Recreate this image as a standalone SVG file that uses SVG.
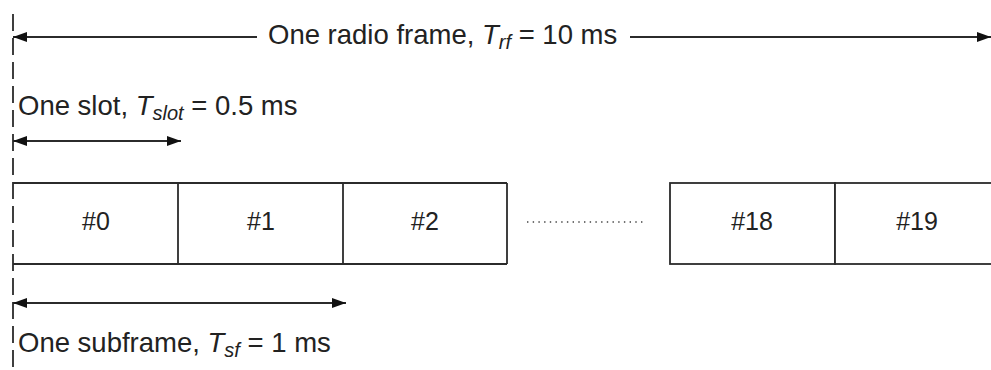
<svg xmlns="http://www.w3.org/2000/svg" width="991" height="370" viewBox="0 0 991 370">
  <style>
    .txt { font-family: "Liberation Sans", Arial, sans-serif; font-size: 27.5px; fill: #222; }
    .lbl { font-family: "Liberation Sans", Arial, sans-serif; font-size: 25px; fill: #222; text-anchor: middle; }
    .it { font-style: italic; }
    .sub { font-style: italic; font-size: 20px; }
    .ln { stroke: #2b2b2b; stroke-width: 1.8; fill: none; }
    .box { stroke: #2b2b2b; stroke-width: 1.8; fill: #fff; }
  </style>
  <defs>
    <marker id="ah" viewBox="0 0 14 10" refX="14" refY="5" markerWidth="14" markerHeight="10" markerUnits="userSpaceOnUse" orient="auto-start-reverse">
      <path d="M0,0 L14,5 L0,10 z" fill="#111"/>
    </marker>
  </defs>
  <rect width="991" height="370" fill="#fff"/>

  <!-- time origin -->
  <line class="ln" x1="13" y1="14" x2="13" y2="370" stroke-dasharray="17 7"/>

  <!-- slot row -->
  <g id="row-left">
    <line class="ln" x1="13" y1="183" x2="507" y2="183"/>
    <line class="ln" x1="13" y1="264" x2="507" y2="264"/>
  </g>
  <g id="slot0">
    <text class="lbl" x="96" y="230">#0</text>
  </g>
  <g id="slot1">
    <line class="ln" x1="178" y1="183" x2="178" y2="264"/>
    <text class="lbl" x="261" y="230">#1</text>
  </g>
  <g id="slot2">
    <line class="ln" x1="343" y1="183" x2="343" y2="264"/>
    <line class="ln" x1="507" y1="183" x2="507" y2="264"/>
    <text class="lbl" x="425" y="230">#2</text>
  </g>
  <g id="ellipsis">
    <line x1="527" y1="222" x2="645" y2="222" stroke="#444" stroke-width="1.3" stroke-dasharray="1.4 4.3"/>
  </g>
  <g id="slot18">
    <rect class="box" x="670" y="183" width="165" height="81"/>
    <text class="lbl" x="752" y="230">#18</text>
  </g>
  <g id="slot19">
    <rect class="box" x="835" y="183" width="170" height="81"/>
    <text class="lbl" x="917" y="230">#19</text>
  </g>

  <!-- dimension arrows -->
  <g id="connectors">
    <line class="ln" x1="13" y1="37" x2="257" y2="37" marker-start="url(#ah)"/>
    <line class="ln" x1="630" y1="37" x2="991" y2="37" marker-end="url(#ah)"/>
    <line class="ln" x1="13" y1="141" x2="181" y2="141" marker-start="url(#ah)" marker-end="url(#ah)"/>
    <line class="ln" x1="13" y1="303" x2="346" y2="303" marker-start="url(#ah)" marker-end="url(#ah)"/>
  </g>

  <g id="frame-label">
    <text class="txt" x="268" y="44">One radio frame, <tspan class="it">T</tspan><tspan class="sub" dy="5">rf</tspan><tspan dy="-5"> = 10 ms</tspan></text>
  </g>
  <g id="slot-label">
    <text class="txt" x="18" y="115">One slot, <tspan class="it">T</tspan><tspan class="sub" dy="5">slot</tspan><tspan dy="-5"> = 0.5 ms</tspan></text>
  </g>
  <g id="subframe-label">
    <text class="txt" x="18" y="352">One subframe, <tspan class="it">T</tspan><tspan class="sub" dy="5">sf</tspan><tspan dy="-5"> = 1 ms</tspan></text>
  </g>
</svg>
